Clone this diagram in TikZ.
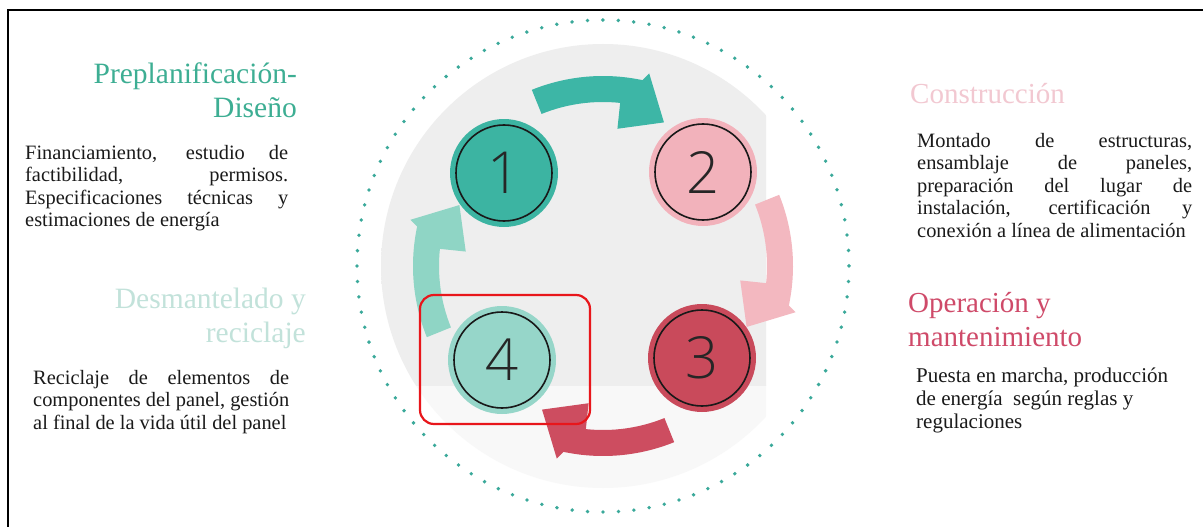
\documentclass[tikz,border=0pt]{standalone}
\usepackage{fontspec}
\setmainfont{Liberation Serif}
\IfFontExistsTF{Open Sans Light}{\newfontfamily\digitfont{Open Sans Light}}{%
  \IfFontExistsTF{Lato Light}{\newfontfamily\digitfont{Lato Light}}{\newfontfamily\digitfont{Open Sans}}}
\definecolor{bgg}{HTML}{EEEEEE}
\definecolor{dotcol}{HTML}{3AA99A}
\definecolor{cone}{HTML}{3CB4A2}
\definecolor{ctwo}{HTML}{F2B2BB}
\definecolor{cthree}{HTML}{C94A5B}
\definecolor{cfour}{HTML}{96D6C9}
\definecolor{aone}{HTML}{3DB6A6}
\definecolor{atwo}{HTML}{F3B8C0}
\definecolor{athree}{HTML}{CD4D60}
\definecolor{afour}{HTML}{8FD5C5}
\definecolor{headteal}{HTML}{3DAE93}
\definecolor{headpaleteal}{HTML}{C2E2DA}
\definecolor{headpalepink}{HTML}{F2C8D1}
\definecolor{headred}{HTML}{CF4A69}
\definecolor{bodytxt}{HTML}{1A1A1A}
\definecolor{hlred}{HTML}{E8161B}
\pgfdeclareradialshading{bgdisc}{\pgfpoint{0bp}{0bp}}{color(0bp)=(bgg); color(34bp)=(bgg); color(50bp)=(white)}
\newcommand{\jl}[1]{\makebox[\linewidth][s]{#1}\par}
\newcommand{\cycarrow}[2]{%
  \fill[#1, rotate=#2] (-112:190) arc[start angle=-112, end angle=-78, radius=190]
    -- (-76.5:198) -- (-67:156) -- (-84:138) -- (-84:164)
    arc[start angle=-84, end angle=-112, radius=164] -- cycle;}
\begin{document}
\begin{tikzpicture}[x=1pt,y=-1pt,
  stage/.style={circle, minimum size=108pt, inner sep=0pt,
    font=\digitfont\fontsize{58}{58}\selectfont, text=black!85},
  ringline/.style={line width=1.6pt, draw=black!90},
  head/.style={anchor=base east, inner sep=0pt, font=\fontsize{29.5}{34}\selectfont},
  headl/.style={anchor=base west, inner sep=0pt, font=\fontsize{29}{34}\selectfont},
  body/.style={anchor=base west, inner sep=0pt, text=bodytxt, font=\fontsize{20.4}{22.5}\selectfont},
  frameline/.style={line width=2.5pt, draw=black}]
\useasboundingbox (0,0) rectangle (1203,527);
\fill[white] (0,0) rectangle (1203,527);
\draw[frameline] (8,527) -- (8,10) -- (1203,10);

\coordinate (C) at (603,266);
% background disc
\begin{scope}
  \clip (380,20) rectangle (766,385);
  \shade[shading=bgdisc] (C) circle (222);
\end{scope}
\begin{scope}
  \clip (380,385) rectangle (766,520);
  \shade[shading=bgdisc, opacity=0.4] (C) circle (222);
\end{scope}
% dotted ring
\draw[dotcol, line width=3.8pt, line cap=round, dash pattern=on 0pt off 15.457pt] (C) circle (246);

% cycle arrows
\begin{scope}[shift={(C)}]
  \cycarrow{aone}{0}
  \cycarrow{atwo}{-90}
  \cycarrow{athree}{180}
  \cycarrow{afour}{90}
\end{scope}

% stages
\node[stage, fill=cone] (n1) at (504,173) {1};
\node[stage, fill=ctwo] (n2) at (703,172) {2};
\node[stage, fill=cthree] (n3) at (702,358) {3};
\node[stage, fill=cfour] (n4) at (502,360) {4};
\foreach \n in {n1,n2,n3,n4} \draw[ringline] (\n.center) circle (48);

% highlight
\draw[hlred, line width=2.2pt, rounded corners=14pt] (420,295) rectangle (590,424);

% headings
\node[head, text=headteal] (h1) at (297,84) {\parbox[t]{280pt}{\raggedleft Preplanificación-\\Diseño}};
\node[head, text=headpaleteal] (h4) at (306,308) {\parbox[t]{280pt}{\raggedleft Desmantelado y\\reciclaje}};
\node[headl, text=headpalepink] (h2) at (910,103) {Construcción};
\node[headl, text=headred] (h3) at (908,312) {\parbox[t]{280pt}{\raggedright Operación y\\mantenimiento}};

% bodies
\node[body] (t1) at (25,159) {\parbox[t]{263pt}{\jl{Financiamiento, estudio de}\jl{factibilidad, permisos.}\jl{Especificaciones técnicas y}estimaciones de energía}};
\node[body] (t2) at (917,147) {\parbox[t]{275pt}{\jl{Montado de estructuras,}\jl{ensamblaje de paneles,}\jl{preparación del lugar de}\jl{instalación, certificación y}conexión a línea de alimentación}};
\node[body] (t4) at (33,384) {\parbox[t]{256pt}{\jl{Reciclaje de elementos de}\jl{componentes del panel, gestión}al final de la vida útil del panel}};
\node[body, font=\fontsize{21}{23}\selectfont] (t3) at (916,382) {\parbox[t]{280pt}{\raggedright Puesta en marcha, producción\\de energía\ \ según reglas y\\regulaciones}};
\end{tikzpicture}
\end{document}
